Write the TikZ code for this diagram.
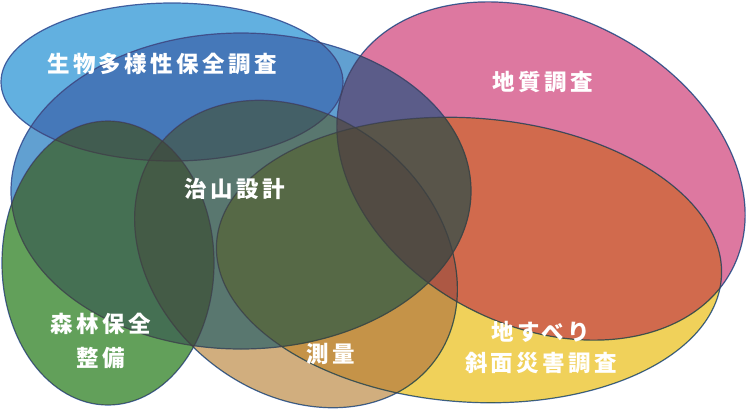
\documentclass[tikz,border=0pt]{standalone}
\usepackage{fontspec}
\usepackage{xcolor}
\usetikzlibrary{shapes.geometric}
\newfontfamily\jpfont[LetterSpace=15]{Noto Sans CJK JP}
\definecolor{bio}{HTML}{2E96D5}
\definecolor{chisan}{HTML}{2C80C2}
\definecolor{forest}{HTML}{2E8023}
\definecolor{survey}{HTML}{C19353}
\definecolor{geo}{HTML}{D24B80}
\definecolor{slide}{HTML}{EBC123}
\definecolor{rim}{HTML}{00338B}

\begin{document}
\begin{tikzpicture}[x=1pt,y=-1pt]
  \tikzstyle{area}=[ellipse,draw=rim,line width=1.2pt,inner sep=0pt]
  \tikzstyle{tag}=[text=white,font=\jpfont\bfseries\fontsize{22.5}{34}\selectfont,align=center]
  \useasboundingbox (0,0) rectangle (746,410);
  \begin{scope}[transparency group,opacity=0.75]
  \begin{scope}[blend group=multiply]
    \node[area,fill=bio,minimum width=342,minimum height=158] (bio) at (172,82) {};
    \node[area,fill=chisan,minimum width=460,minimum height=316] (chisan) at (241,191) {};
    \node[area,fill=forest,minimum width=212,minimum height=284] (forest) at (108,263) {};
    \node[area,fill=survey,minimum width=350,minimum height=276,rotate=-39] (survey) at (296,254) {};
    \node[area,fill=geo,minimum width=430,minimum height=310,rotate=-27] (geo) at (541,171) {};
    \node[area,fill=slide,minimum width=506,minimum height=284,rotate=-4] (slide) at (469,260) {};
  \end{scope}
  \end{scope}
  \node[tag] (biolabel) at (162,64) {生物多様性保全調査};
  \node[tag] (geolabel) at (543,82) {地質調査};
  \node[tag] (chisanlabel) at (235,189) {治山設計};
  \node[tag] (forestlabel) at (101,341) {森林保全\\整備};
  \node[tag] (surveylabel) at (331,354) {測量};
  \node[tag] (slidelabel) at (541,347) {地すべり\\[-3pt]斜面災害調査};
\end{tikzpicture}
\end{document}
